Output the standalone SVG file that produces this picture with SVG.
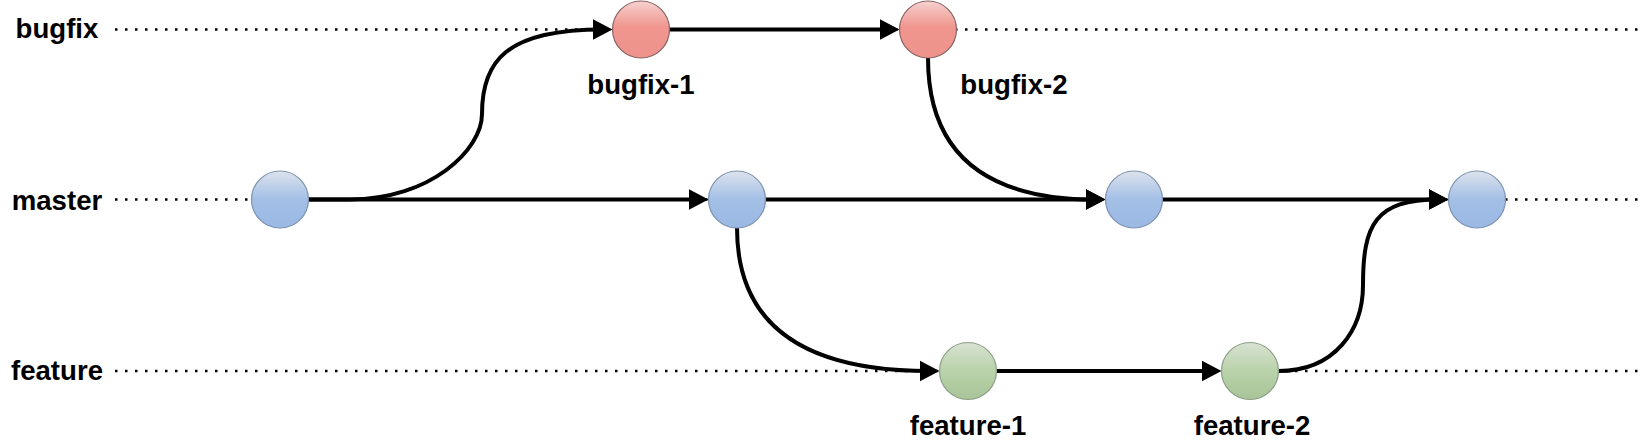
<svg xmlns="http://www.w3.org/2000/svg" width="1650" height="443" viewBox="0 0 1650 443">
  <style>
    .lbl { font-family: "Liberation Sans", Arial, Helvetica, sans-serif; font-weight: bold; font-size: 27.6px; fill: #000; }
    .row { text-anchor: middle; }
    .nl { text-anchor: middle; }
    .dots { stroke: #000; stroke-width: 2.5; stroke-dasharray: 2.5 7.5; fill: none; }
    .edge { stroke: #000; stroke-width: 4; fill: none; marker-end: url(#arrow); }
    .blue { fill: url(#gBlue); stroke: #7d93b2; stroke-width: 1.2; }
    .red { fill: url(#gRed); stroke: #8a6464; stroke-width: 1.2; }
    .green { fill: url(#gGreen); stroke: #8b9e86; stroke-width: 1.2; }
  </style>
  <defs>
    <linearGradient id="gBlue" x1="0" y1="0" x2="0" y2="1">
      <stop offset="0" stop-color="#dde3ec"/>
      <stop offset="0.5" stop-color="#a3bfe6"/>
      <stop offset="1" stop-color="#99b8e3"/>
    </linearGradient>
    <linearGradient id="gRed" x1="0" y1="0" x2="0" y2="1">
      <stop offset="0" stop-color="#f6d2d0"/>
      <stop offset="0.45" stop-color="#f0968f"/>
      <stop offset="1" stop-color="#ee928c"/>
    </linearGradient>
    <linearGradient id="gGreen" x1="0" y1="0" x2="0" y2="1">
      <stop offset="0" stop-color="#d8e2d2"/>
      <stop offset="0.5" stop-color="#b9d2aa"/>
      <stop offset="1" stop-color="#a9c498"/>
    </linearGradient>
    <marker id="arrow" markerUnits="userSpaceOnUse" markerWidth="21" markerHeight="22" refX="10" refY="11" orient="auto">
      <path d="M0,0.5 L20,11 L0,21.5 z" fill="#000"/>
    </marker>
  </defs>

  <g id="lanes">
    <text class="lbl row" x="57" y="38">bugfix</text>
    <text class="lbl row" x="57" y="209.5">master</text>
    <text class="lbl row" x="57" y="380">feature</text>
    <path class="dots" d="M115 29.5 H1645"/>
    <path class="dots" d="M115 199.5 H1645"/>
    <path class="dots" d="M115 371 H1645"/>
  </g>

  <g id="connectors">
    <path class="edge" d="M308.5 199.5 L350 199.5 C430 199.5 482 150 482 114 C482 62 505 29.5 602.5 29.5"/>
    <path class="edge" d="M669.5 29.5 L889.5 29.5"/>
    <path class="edge" d="M928 58 Q928 199.5 1095.5 199.5"/>
    <path class="edge" d="M308.5 199.5 L698.5 199.5"/>
    <path class="edge" d="M765.5 199.5 L1095.5 199.5"/>
    <path class="edge" d="M1162.5 199.5 L1438.5 199.5"/>
    <path class="edge" d="M737 228 Q737 371 929.5 371"/>
    <path class="edge" d="M996.5 371 L1211.5 371"/>
    <path class="edge" d="M1278.5 371 C1335 371 1363 330 1363 285 C1363 225 1375 199.5 1438.5 199.5"/>
  </g>

  <g id="m1"><circle class="blue" cx="280" cy="199.5" r="28.5"/></g>
  <g id="m2"><circle class="blue" cx="737" cy="199.5" r="28.5"/></g>
  <g id="m3"><circle class="blue" cx="1134" cy="199.5" r="28.5"/></g>
  <g id="m4"><circle class="blue" cx="1477" cy="199.5" r="28.5"/></g>
  <g id="bugfix-1">
    <circle class="red" cx="641" cy="29.5" r="28.5"/>
    <text class="lbl nl" x="641" y="94">bugfix-1</text>
  </g>
  <g id="bugfix-2">
    <circle class="red" cx="928" cy="29.5" r="28.5"/>
    <text class="lbl nl" x="1014" y="94">bugfix-2</text>
  </g>
  <g id="feature-1">
    <circle class="green" cx="968" cy="371" r="28.5"/>
    <text class="lbl nl" x="968" y="434.5">feature-1</text>
  </g>
  <g id="feature-2">
    <circle class="green" cx="1250" cy="371" r="28.5"/>
    <text class="lbl nl" x="1252" y="434.5">feature-2</text>
  </g>
</svg>
